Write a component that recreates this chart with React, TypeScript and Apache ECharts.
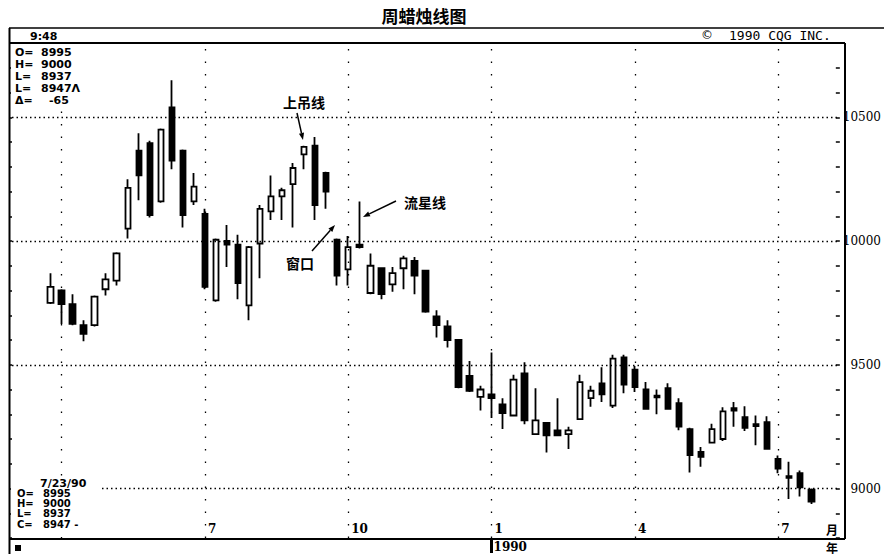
import React, { useEffect, useRef } from 'react';
import * as echarts from 'echarts';

// ---- data ----
const padBefore = ['89-03-06', '89-03-13', '89-03-20'];
const padAfter = ['90-07-30', '90-08-06'];
const weeks = [
  '89-03-27', '89-04-03', '89-04-10', '89-04-17', '89-04-24', '89-05-01', '89-05-08', '89-05-15', '89-05-22', '89-05-29',
  '89-06-05', '89-06-12', '89-06-19', '89-06-26', '89-07-03', '89-07-10', '89-07-17', '89-07-24', '89-07-31', '89-08-07',
  '89-08-14', '89-08-21', '89-08-28', '89-09-04', '89-09-11', '89-09-18', '89-09-25', '89-10-02', '89-10-09', '89-10-16',
  '89-10-23', '89-10-30', '89-11-06', '89-11-13', '89-11-20', '89-11-27', '89-12-04', '89-12-11', '89-12-18', '89-12-25',
  '90-01-01', '90-01-08', '90-01-15', '90-01-22', '90-01-29', '90-02-05', '90-02-12', '90-02-19', '90-02-26', '90-03-05',
  '90-03-12', '90-03-19', '90-03-26', '90-04-02', '90-04-09', '90-04-16', '90-04-23', '90-04-30', '90-05-07', '90-05-14',
  '90-05-21', '90-05-28', '90-06-04', '90-06-11', '90-06-18', '90-06-25', '90-07-02', '90-07-09', '90-07-16', '90-07-23',
];
const opens = [
  9750, 9800, 9745, 9660, 9660, 9805, 9840, 10050, 10365, 10395,
  10160, 10540, 10365, 10160, 10110, 9760, 10000, 9985, 9740, 9990,
  10120, 10180, 10230, 10350, 10385, 10275, 10005, 9885, 9985, 9790,
  9890, 9825, 9890, 9920, 9880, 9695, 9655, 9600, 9455, 9370,
  9380, 9340, 9295, 9465, 9220, 9265, 9235, 9220, 9280, 9365,
  9425, 9335, 9530, 9480, 9400, 9375, 9405, 9345, 9240, 9148,
  9185, 9200, 9325, 9288, 9260, 9268, 9120, 9050, 9062, 8995,
];
const highs = [
  9870, 9805, 9785, 9680, 9780, 9870, 9955, 10250, 10435, 10405,
  10455, 10650, 10370, 10275, 10130, 10010, 10065, 10025, 9980, 10145,
  10265, 10215, 10315, 10385, 10420, 10280, 10010, 10020, 10160, 9950,
  9892, 9895, 9940, 9935, 9880, 9720, 9680, 9600, 9515, 9415,
  9550, 9365, 9460, 9510, 9405, 9268, 9365, 9250, 9460, 9415,
  9490, 9540, 9540, 9495, 9430, 9400, 9425, 9365, 9245, 9168,
  9262, 9328, 9350, 9332, 9295, 9292, 9133, 9108, 9073, 9000,
];
const lows = [
  9745, 9665, 9660, 9595, 9655, 9780, 9820, 10010, 10165, 10095,
  10155, 10290, 10055, 10145, 9805, 9755, 9895, 9765, 9680, 9850,
  10085, 10085, 10055, 10290, 10085, 10130, 9820, 9820, 9970, 9785,
  9765, 9795, 9805, 9785, 9710, 9610, 9570, 9405, 9390, 9315,
  9285, 9240, 9292, 9260, 9218, 9145, 9212, 9160, 9278, 9330,
  9350, 9325, 9385, 9390, 9320, 9300, 9320, 9235, 9065, 9088,
  9182, 9192, 9250, 9232, 9175, 9158, 9062, 8958, 8968, 8937,
];
const closes = [
  9815, 9745, 9665, 9625, 9775, 9845, 9950, 10215, 10265, 10105,
  10450, 10325, 10105, 10220, 9815, 10005, 9985, 9830, 9975, 10130,
  10180, 10205, 10295, 10380, 10145, 10200, 9860, 9975, 9975, 9900,
  9785, 9870, 9930, 9860, 9715, 9660, 9600, 9410, 9395, 9400,
  9365, 9305, 9440, 9275, 9275, 9215, 9215, 9235, 9430, 9395,
  9380, 9525, 9420, 9410, 9322, 9368, 9322, 9250, 9135, 9128,
  9240, 9312, 9315, 9245, 9252, 9160, 9080, 9043, 9005, 8947,
];

// month markers (vertical dotted lines) and their labels
const monthWeeks = ['89-04-03', '89-07-03', '89-10-02', '90-01-01', '90-04-02', '90-07-02'];
const monthLabels = ['', '7', '10', '1', '4', '7'];
const yearWeek = '90-01-01';
const yearLabel = '1990';

// value axis
const yMin = 8800;
const yMax = 10800;
const yStep = 100;
const yLabelValues = [9000, 9500, 10000, 10500];

// info blocks
const topInfoKeys = ['O=', 'H=', 'L=', 'L=', 'Δ='];
const topInfoVals = ['8995', '9000', '8937', '8947Λ', '-65'];
const bottomInfoDate = '7/23/90';
const bottomInfoKeys = ['O=', 'H=', 'L=', 'C='];
const bottomInfoVals = ['8995', '9000', '8937', '8947 -'];

// annotations (text + arrow, pixel layout)
const annotations = [
  { text: '上吊线', x: 304, y: 102, from: [297, 113], to: [303, 140] },
  { text: '流星线', x: 425, y: 202, from: [396, 201], to: [363, 217] },
  { text: '窗口', x: 300, y: 263, from: [312, 251], to: [335, 225] },
];

const categories = [...padBefore, ...weeks, ...padAfter];

function monthLabelOf(v: string) {
  const i = monthWeeks.indexOf(v);
  return i < 0 ? '' : monthLabels[i];
}

function buildOption(): any {
  const candleData = categories.map((c) => {
    const i = weeks.indexOf(c);
    return i < 0 ? ['-', '-', '-', '-'] : [opens[i], closes[i], lows[i], highs[i]];
  });

  const Z = 100;
  const g: any[] = [];
  const line = (x1: number, y1: number, x2: number, y2: number, w: number) =>
    g.push({ type: 'line', z: Z, shape: { x1, y1, x2, y2 }, style: { stroke: '#000', lineWidth: w } });
  const text = (t: string, x: number, y: number, font: string, align = 'left') =>
    g.push({
      type: 'text', z: Z + 1, x, y,
      style: { text: t, font, fill: '#000', textAlign: align, textVerticalAlign: 'middle' },
    });

  // white masks under the info blocks
  g.push({ type: 'rect', z: Z, shape: { x: 11, y: 45, width: 72, height: 62 }, style: { fill: '#fff' } });
  g.push({ type: 'rect', z: Z, shape: { x: 11, y: 476, width: 90, height: 61 }, style: { fill: '#fff' } });

  // frame
  line(9, 28, 884, 28, 1.5);
  line(9, 43, 845, 43, 2);
  line(9, 539, 845, 539, 2);
  line(9.5, 28, 9.5, 554, 2);
  line(845, 43, 845, 539, 2);

  // title & header
  text('周蜡烛线图', 424, 15, 'bold 17px "Noto Sans CJK SC"', 'center');
  text('9:48', 30, 36, 'bold 11px "DejaVu Sans"');
  text('©', 701, 35, '12px "DejaVu Sans"');
  text('1990 CQG INC.', 729, 35, '13px "DejaVu Sans Mono"');

  // top info block
  topInfoKeys.forEach((k, i) => {
    const y = 52 + i * 12;
    text(k, 15, y, 'bold 11px "DejaVu Sans"');
    text(topInfoVals[i], i === 4 ? 49 : 41, y, 'bold 11px "DejaVu Sans"');
  });

  // bottom info block
  text(bottomInfoDate, 40, 483, 'bold 11px "DejaVu Sans"');
  bottomInfoKeys.forEach((k, i) => {
    const y = 493.5 + i * 10.2;
    text(k, 17, y, 'bold 10px "DejaVu Sans"');
    text(bottomInfoVals[i], 43, y, 'bold 10px "DejaVu Sans"');
  });
  g.push({ type: 'rect', z: Z, shape: { x: 15, y: 545, width: 6, height: 6 }, style: { fill: '#000' } });

  // axis unit marks
  text('月', 832, 529, 'bold 12px "Noto Sans CJK SC"', 'center');
  text('年', 832, 547, 'bold 12px "Noto Sans CJK SC"', 'center');

  // annotations
  annotations.forEach((a) => {
    text(a.text, a.x, a.y, 'bold 14px "Noto Sans CJK SC"', 'center');
    const [x1, y1] = a.from;
    const [x2, y2] = a.to;
    const dx = x2 - x1, dy = y2 - y1;
    const len = Math.hypot(dx, dy);
    const ux = dx / len, uy = dy / len;
    const bx = x2 - ux * 7, by = y2 - uy * 7;
    line(x1, y1, bx, by, 1.5);
    g.push({
      type: 'polygon', z: Z,
      shape: { points: [[x2, y2], [bx - uy * 2.6, by + ux * 2.6], [bx + uy * 2.6, by - ux * 2.6]] },
      style: { fill: '#000' },
    });
  });

  const yLabelFont = { fontFamily: 'DejaVu Serif', fontSize: 12, color: '#000' };

  return {
    animation: false,
    backgroundColor: '#fff',
    grid: { left: 12, right: 40, top: 43, bottom: 16 },
    xAxis: [
      {
        type: 'category',
        data: categories,
        boundaryGap: true,
        axisLine: { show: false },
        axisTick: { show: false },
        splitLine: { show: false },
        axisLabel: {
          inside: true,
          margin: 3,
          interval: (_i: number, v: string) => monthLabelOf(v) !== '',
          formatter: (v: string) => monthLabelOf(v),
          align: 'left',
          padding: [0, 0, 0, 3],
          fontFamily: 'DejaVu Serif',
          fontWeight: 'bold',
          fontSize: 12,
          color: '#000',
        },
      },
      {
        type: 'category',
        data: categories,
        position: 'bottom',
        boundaryGap: true,
        axisLine: { show: false },
        splitLine: { show: false },
        axisTick: {
          show: true,
          alignWithLabel: true,
          interval: (_i: number, v: string) => v === yearWeek,
          length: 15,
          lineStyle: { color: '#000', width: 3 },
        },
        axisLabel: {
          interval: (_i: number, v: string) => v === yearWeek,
          formatter: (v: string) => (v === yearWeek ? yearLabel : ''),
          align: 'left',
          margin: 3,
          padding: [0, 0, 0, 2],
          fontFamily: 'DejaVu Serif',
          fontWeight: 'bold',
          fontSize: 12,
          color: '#000',
        },
      },
    ],
    yAxis: [
      {
        type: 'value',
        position: 'right',
        offset: 1,
        min: yMin,
        max: yMax,
        interval: yStep,
        axisLine: { show: false },
        splitLine: { show: false },
        axisTick: { show: true, inside: true, length: 4, lineStyle: { color: '#000', width: 1.5 } },
        axisLabel: {
          margin: 3,
          ...yLabelFont,
          formatter: (v: number) =>
            yLabelValues.includes(v) ? (v >= 10000 ? `{w|${v}}` : `{n|${v}}`) : '',
          rich: {
            w: { ...yLabelFont },
            n: { ...yLabelFont, padding: [0, 0, 0, 7.6] },
          },
        },
      },
      {
        type: 'value',
        position: 'left',
        offset: 3,
        min: yMin,
        max: yMax,
        interval: yStep,
        axisLine: { show: false },
        splitLine: { show: false },
        axisLabel: { show: false },
        axisTick: { show: true, inside: true, length: 3, lineStyle: { color: '#000', width: 1.5 } },
      },
    ],
    series: [
      {
        type: 'line',
        data: [],
        xAxisIndex: 0,
        yAxisIndex: 0,
        silent: true,
        z: 1,
        markLine: {
          silent: true,
          symbol: ['none', 'none'],
          label: { show: false },
          animation: false,
          data: [
            ...yLabelValues.map((v) => ({
              yAxis: v,
              lineStyle: { type: [1.5, 3], color: '#000', width: 1.3 },
            })),
            ...monthWeeks.map((w) => ({
              xAxis: w,
              lineStyle: { type: [1.5, 11], color: '#000', width: 1.3 },
            })),
          ],
        },
      },
      {
        type: 'candlestick',
        data: candleData,
        xAxisIndex: 0,
        yAxisIndex: 0,
        barWidth: 6,
        z: 2,
        itemStyle: {
          color: '#fff',
          color0: '#000',
          borderColor: '#000',
          borderColor0: '#000',
          borderColorDoji: '#000',
          borderWidth: 1.8,
        },
      },
    ],
    graphic: g,
  };
}

export default function App() {
  const ref = useRef<HTMLDivElement>(null);
  useEffect(() => {
    if (!ref.current) return;
    const chart = echarts.init(ref.current, null, { renderer: 'svg' });
    chart.setOption(buildOption());
    return () => chart.dispose();
  }, []);
  return (
    <div
      ref={ref}
      style={{ position: 'fixed', left: 0, top: 0, width: 884, height: 554, background: '#fff' }}
    />
  );
}
